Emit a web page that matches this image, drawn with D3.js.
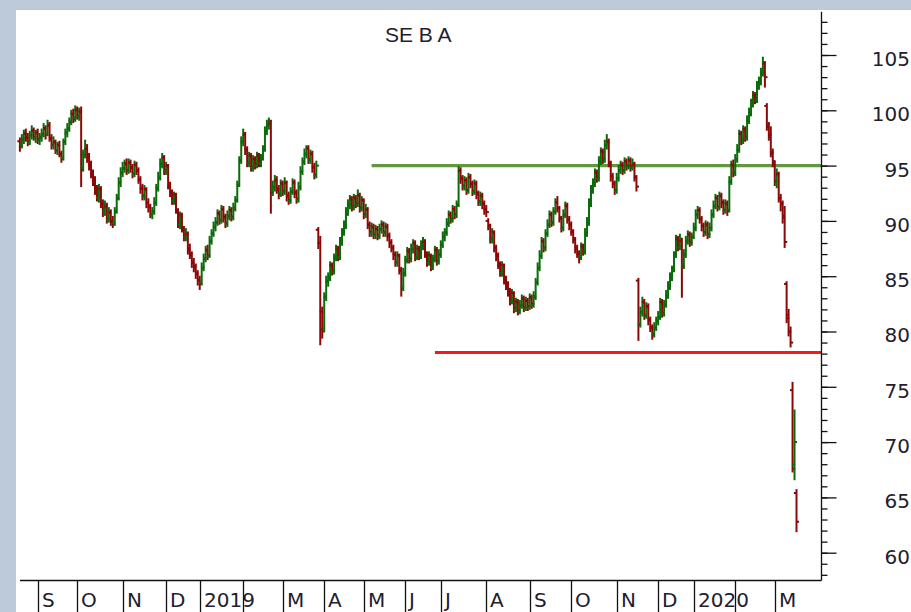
<!DOCTYPE html>
<html><head><meta charset="utf-8">
<script src="https://cdn.jsdelivr.net/npm/d3@7"></script>
<style>html,body{margin:0;padding:0;background:#bccada;} svg{display:block}</style>
</head><body><svg id="c" width="911" height="612"></svg>
<script>
const title = "SE B A";
const monthLabels = ["S","O","N","D","2019","","M","A","M","J","J","A","S","O","N","D","2020","","M"];
const monthStartDay = [9,29,52,74,91,113,133,154,174,195,213,236,258,279,302,323,341,362,382];
const yMajorTicks = [60,65,70,75,80,85,90,95,100,105];
const yMinorTicks = [58,59,60,61,62,63,64,65,66,67,68,69,70,71,72,73,74,75,76,77,78,79,80,81,82,83,84,85,86,87,88,89,90,91,92,93,94,95,96,97,98,99,100,101,102,103,104,105,106,107,108];
const resistanceLevel = 95, resistanceStartDay = 178;
const supportLevel = 78.1, supportStartDay = 210;

const openP = [
97.2,96.9,97.3,97.9,97.6,97.1,97.7,98.2,97.5,98.0,
97.3,97.5,97.8,98.4,97.9,98.6,97.4,96.8,97.1,96.3,
96.9,96.0,95.7,97.2,97.9,98.3,99.0,99.7,99.3,100.0,
99.4,99.9,94.8,96.0,96.5,95.8,95.1,94.2,93.7,92.8,
92.1,92.9,91.5,90.9,91.3,90.1,90.8,90.0,89.8,90.9,
92.1,93.4,94.3,94.7,95.2,94.5,95.3,94.9,94.2,95.1,
94.5,93.7,93.0,92.2,92.9,91.7,91.3,90.5,90.9,91.6,
93.0,93.9,95.1,95.7,94.5,95.0,93.1,92.6,91.8,92.4,
90.8,89.7,90.5,89.2,88.5,88.8,87.5,86.9,86.3,85.8,
85.3,84.7,84.4,85.7,86.5,87.4,86.8,88.1,88.9,89.4,
89.8,90.7,90.0,91.1,90.4,89.7,90.4,91.0,90.3,91.1,
91.9,93.3,95.5,97.1,97.8,96.5,95.2,95.9,94.8,95.6,
95.0,95.9,95.2,95.7,96.5,98.0,98.6,98.8,92.7,93.0,
93.7,92.8,92.5,93.4,92.6,93.4,92.3,91.8,92.7,93.5,
92.6,91.9,93.0,94.4,95.4,96.0,96.6,95.5,96.1,94.9,
94.1,89.2,88.0,81.8,80.3,83.1,84.5,84.9,86.0,85.4,
86.7,87.5,86.7,88.0,89.0,89.5,90.7,91.4,92.0,91.2,
92.1,91.5,92.3,91.1,91.9,90.5,91.0,89.7,88.9,89.5,
88.7,89.3,88.6,89.2,89.7,88.9,89.5,88.7,88.1,87.5,
87.0,86.2,86.9,85.5,84.0,85.2,86.5,87.3,86.5,87.4,
88.0,86.7,87.5,86.8,87.7,88.1,87.0,86.2,86.9,85.8,
86.6,87.4,86.3,86.9,87.9,88.5,89.0,89.7,90.6,90.1,
91.1,90.5,91.5,94.5,93.9,93.1,93.7,92.7,94.0,93.3,
92.6,93.4,92.5,91.7,92.3,91.6,91.1,90.0,89.5,88.3,
89.0,87.5,86.9,86.0,85.3,86.0,84.8,84.1,83.7,82.7,
83.5,82.0,82.7,81.8,82.3,83.0,82.1,82.8,82.2,83.1,
82.4,83.1,84.5,85.7,86.8,88.2,87.5,88.9,89.6,90.6,
89.8,90.9,91.7,91.1,90.2,89.3,90.5,91.4,90.1,89.7,
89.0,88.3,87.6,87.0,86.8,87.7,87.2,88.8,89.8,91.5,
92.9,93.3,94.4,93.8,95.3,96.3,95.5,96.8,97.2,95.2,
94.1,93.3,92.7,93.8,94.5,95.1,94.5,95.4,94.9,95.5,
94.8,95.1,93.9,84.6,80.7,81.7,82.7,81.4,82.3,81.1,
80.3,79.8,80.3,81.0,81.3,82.7,81.6,82.5,83.2,84.0,
84.8,85.6,86.9,88.4,87.6,88.2,86.0,86.9,88.1,88.8,
88.0,88.6,89.3,90.5,91.0,90.1,89.6,88.9,89.7,88.7,
89.3,90.5,91.3,92.1,91.2,92.3,91.7,90.9,91.6,91.0,
93.5,95.1,94.3,95.5,96.4,97.9,97.2,98.3,97.5,99.0,
99.7,100.5,101.4,100.9,102.1,102.5,103.3,104.2,100.4,98.5,
97.7,96.1,95.2,93.5,94.2,92.0,91.5,90.5,84.3,81.5,
80.0,74.7,68.0,65.4];

const highP = [
97.5,97.8,98.2,98.3,97.9,98.1,98.6,98.4,98.2,98.3,
97.9,98.3,98.8,98.6,99.1,98.9,97.8,97.6,97.3,97.1,
97.2,96.3,97.4,98.3,98.8,99.3,100.0,100.1,100.4,100.3,
100.2,100.3,96.4,97.3,96.9,96.1,95.4,94.6,94.0,93.2,
93.3,93.1,91.9,91.8,91.6,91.2,91.0,90.4,91.2,92.4,
93.9,94.8,95.3,95.5,95.6,95.6,95.5,95.1,95.4,95.3,
94.8,94.0,93.3,93.2,93.0,92.0,91.5,91.2,92.1,93.3,
94.4,95.6,96.1,95.9,95.3,95.1,93.5,92.8,92.6,92.5,
91.1,90.8,90.7,89.5,89.3,89.0,87.9,87.2,86.6,86.1,
85.5,85.0,86.2,87.0,87.7,87.8,88.6,89.2,89.9,90.3,
91.0,90.9,91.4,91.3,90.6,90.9,91.3,91.2,91.6,92.2,
93.6,95.8,97.6,98.3,98.0,96.7,96.2,96.1,95.9,95.8,
96.2,96.1,96.0,96.8,98.5,99.1,99.3,99.1,93.6,94.1,
94.0,93.2,93.7,93.6,93.9,93.6,92.6,93.0,93.8,93.7,
92.8,93.5,94.9,95.7,96.5,96.8,96.8,96.4,96.3,95.2,
95.4,89.4,88.6,82.2,83.5,85.0,85.3,86.3,86.2,87.0,
87.8,87.7,88.5,89.3,90.0,91.2,91.9,92.3,92.2,92.4,
92.3,92.8,92.5,92.2,92.0,91.5,91.2,89.9,89.8,89.7,
89.6,89.5,89.7,90.0,89.9,89.8,89.7,88.9,88.3,87.8,
87.2,87.2,87.0,85.8,85.7,86.8,87.6,87.5,87.9,88.3,
88.2,87.8,87.7,88.2,88.5,88.3,87.2,87.2,87.0,86.9,
87.7,87.6,87.4,88.2,89.0,89.3,90.2,90.9,90.8,91.4,
91.3,91.8,94.9,94.8,94.1,94.0,93.9,94.3,94.2,93.6,
93.7,93.6,92.7,92.6,92.5,91.8,91.4,90.2,89.7,89.3,
89.1,87.8,87.1,86.3,86.3,86.1,85.0,84.5,83.9,83.8,
83.6,83.0,82.9,82.8,83.3,83.2,83.1,83.0,83.4,83.3,
83.6,84.8,86.2,87.3,88.5,88.4,89.2,90.1,90.9,90.8,
91.2,92.0,92.2,91.3,90.4,91.0,91.7,91.6,90.4,89.9,
89.2,88.5,87.8,87.3,88.0,87.9,89.3,90.3,92.0,93.2,
93.8,94.7,94.6,95.8,96.6,96.5,97.3,97.8,97.4,95.4,
94.3,93.6,94.3,95.0,95.4,95.3,95.7,95.6,95.8,95.7,
95.6,95.3,94.1,84.8,82.2,83.1,82.9,82.6,82.5,81.3,
80.6,80.8,81.3,81.8,83.0,82.9,82.8,83.7,84.5,85.3,
85.9,87.2,88.7,88.6,88.8,88.4,87.4,88.6,89.1,89.0,
88.9,89.8,91.0,91.3,91.2,90.4,89.8,90.0,89.9,89.8,
91.0,91.8,92.4,92.3,92.6,92.5,91.9,91.9,91.8,94.0,
95.4,95.5,96.0,96.9,98.2,98.1,98.6,98.5,99.5,100.2,
101.0,101.7,101.6,102.6,103.0,103.8,104.8,104.4,100.6,98.9,
98.5,96.5,95.4,94.7,94.4,92.4,91.8,91.3,84.5,82.0,
80.4,75.4,72.9,65.7];

const lowP = [
96.3,96.6,97.0,97.2,96.8,96.9,97.4,97.3,97.1,97.0,
96.9,97.2,97.6,97.4,97.7,97.2,96.5,96.5,96.1,96.0,
95.8,95.3,95.5,96.9,97.6,98.1,98.7,98.9,99.0,99.2,
99.1,93.1,94.5,95.7,95.3,94.6,93.9,93.2,92.4,91.8,
91.7,91.2,90.4,90.5,89.8,89.9,89.6,89.4,89.6,90.7,
91.9,93.1,94.0,94.4,94.2,94.3,94.4,93.9,94.0,94.2,
93.4,92.5,91.9,91.9,91.2,90.8,90.3,90.2,90.6,91.4,
92.7,93.7,94.8,94.2,94.2,92.9,92.2,91.5,91.5,90.7,
89.4,89.3,89.0,88.2,88.2,87.0,86.6,85.8,85.4,84.8,
84.2,83.8,84.2,85.5,86.3,86.5,86.7,87.9,88.6,89.1,
89.6,89.7,89.8,89.9,89.4,89.5,90.1,90.0,90.1,90.9,
91.7,93.1,95.2,96.8,96.0,94.9,94.9,94.5,94.5,94.7,
94.8,94.9,94.9,95.5,96.3,97.8,98.3,90.7,92.3,92.7,
92.5,92.0,92.2,92.3,92.4,91.8,91.5,91.6,92.4,92.1,
91.6,91.7,92.8,94.2,95.1,95.7,95.2,95.2,94.4,93.8,
93.9,87.5,78.8,79.4,80.0,82.8,84.1,84.6,85.1,85.2,
86.4,86.4,86.5,87.8,88.7,89.3,90.5,91.1,90.9,91.0,
91.2,91.3,90.8,90.9,90.2,90.3,89.3,88.6,88.6,88.4,
88.4,88.3,88.4,88.9,88.6,88.6,88.2,87.6,87.2,86.5,
85.9,85.9,85.2,83.2,83.7,85.0,86.2,86.2,86.3,87.1,
86.4,86.5,86.5,86.6,87.4,86.7,85.9,86.0,85.5,85.6,
86.3,86.0,86.1,86.7,87.6,88.2,88.7,89.5,89.8,89.9,
90.2,90.3,91.3,93.4,92.8,92.8,92.4,92.5,93.0,92.3,
92.4,92.0,91.4,91.4,91.1,90.6,90.4,89.2,88.0,88.0,
87.2,86.4,85.7,85.0,85.0,84.3,83.8,83.2,82.4,82.5,
81.7,81.8,81.5,81.6,82.1,81.8,81.9,81.9,82.0,82.1,
82.2,82.9,84.2,85.5,86.6,87.2,87.3,88.6,89.4,89.5,
89.6,90.6,90.8,89.9,89.0,89.1,90.3,89.8,89.2,88.7,
88.0,87.1,86.7,86.2,86.5,86.9,87.0,88.6,89.6,91.3,
92.5,93.1,93.5,93.6,95.1,95.2,95.3,96.5,94.9,93.6,
93.0,92.4,92.5,93.6,94.3,94.2,94.3,94.6,94.7,94.5,
94.6,93.6,92.7,79.2,80.4,81.4,81.1,81.2,80.6,80.0,
79.3,79.5,80.1,80.6,81.1,81.3,81.4,82.2,83.0,83.8,
84.6,85.4,86.7,87.3,87.4,83.1,85.7,86.7,87.9,87.7,
87.8,88.4,89.1,90.2,89.8,89.1,88.6,88.7,88.4,88.5,
89.1,90.3,91.1,90.9,91.0,91.2,90.6,90.7,90.5,90.8,
93.3,94.0,94.1,95.3,96.2,96.9,97.0,97.2,97.3,98.8,
99.5,100.3,100.6,100.7,101.9,102.3,103.1,102.1,98.2,97.3,
95.8,94.9,93.2,93.0,91.7,90.9,89.8,87.6,80.8,79.6,
78.6,67.3,66.6,61.9];

const closeP = [
96.8,97.4,97.9,97.5,97.2,97.8,98.1,97.6,97.9,97.4,
97.6,97.9,98.3,97.8,98.7,97.5,96.9,97.2,96.4,96.8,
96.1,95.6,97.1,98.0,98.4,98.9,99.6,99.2,100.1,99.5,
99.8,94.6,95.9,96.6,95.7,95.0,94.3,93.6,92.9,92.2,
92.8,91.6,91.0,91.4,90.2,90.7,89.9,89.7,90.8,92.0,
93.5,94.4,94.8,95.1,94.6,95.2,94.8,94.3,95.0,94.6,
93.8,92.9,92.3,92.8,91.6,91.2,90.6,90.8,91.7,92.9,
94.0,95.2,95.8,94.6,94.9,93.2,92.5,91.9,92.3,91.0,
89.8,90.4,89.3,88.6,88.9,87.4,87.0,86.2,85.9,85.2,
84.6,84.3,85.8,86.6,87.3,86.9,88.2,88.8,89.5,89.9,
90.6,90.1,91.0,90.3,89.8,90.5,90.9,90.4,91.2,91.8,
93.2,95.4,97.2,97.9,96.4,95.3,95.8,94.9,95.5,95.1,
95.8,95.3,95.6,96.4,98.1,98.7,99.0,92.6,93.1,93.6,
92.9,92.4,93.3,92.7,93.5,92.2,91.9,92.6,93.4,92.5,
92.0,93.1,94.5,95.3,96.1,96.5,95.6,96.0,94.8,94.2,
95.0,88.0,80.2,80.0,83.2,84.6,84.8,85.9,85.5,86.6,
87.4,86.8,88.1,88.9,89.6,90.8,91.5,91.9,91.3,92.0,
91.6,92.4,91.2,91.8,90.6,91.1,89.6,89.0,89.4,88.8,
89.2,88.7,89.3,89.6,89.0,89.4,88.6,88.0,87.6,86.9,
86.3,86.8,85.6,83.9,85.3,86.4,87.2,86.6,87.5,87.9,
86.8,87.4,86.9,87.8,88.0,87.1,86.3,86.8,85.9,86.5,
87.3,86.4,87.0,87.8,88.6,88.9,89.8,90.5,90.2,91.0,
90.6,91.4,94.6,93.8,93.2,93.6,92.8,93.9,93.4,92.7,
93.3,92.4,91.8,92.2,91.5,91.0,90.8,89.6,88.4,88.9,
87.6,86.8,86.1,85.4,85.9,84.7,84.2,83.6,82.8,83.4,
82.1,82.6,81.9,82.4,82.9,82.2,82.7,82.3,83.0,82.5,
83.2,84.4,85.8,86.9,88.1,87.6,88.8,89.7,90.5,89.9,
90.8,91.6,91.2,90.3,89.4,90.6,91.3,90.2,89.6,89.1,
88.4,87.5,87.1,86.7,87.6,87.3,88.9,89.9,91.6,92.8,
93.4,94.3,93.9,95.4,96.2,95.6,96.9,97.1,95.3,94.0,
93.4,92.8,93.9,94.6,95.0,94.6,95.3,95.0,95.4,94.9,
95.2,94.0,93.1,80.6,81.8,82.6,81.5,82.2,81.0,80.4,
79.7,80.4,80.9,81.2,82.6,81.7,82.4,83.3,84.1,84.9,
85.5,86.8,88.3,87.7,88.4,85.9,87.0,88.2,88.7,88.1,
88.5,89.4,90.6,90.9,90.2,89.5,89.0,89.6,88.8,89.4,
90.6,91.4,92.0,91.3,92.2,91.6,91.0,91.5,90.9,93.6,
95.0,94.4,95.6,96.5,97.8,97.3,98.2,97.6,99.1,99.8,
100.6,101.3,101.0,102.2,102.6,103.4,104.3,103.0,98.6,97.8,
96.2,95.4,93.6,94.3,92.1,91.6,90.3,88.1,81.2,80.0,
79.0,67.6,70.0,62.8];

const W = 911, H = 612;
const upColor = "#0b6b0b", downColor = "#8c0808";
const textColor = "#23202e";
const titleFont = "Arial, 'Liberation Sans', Helvetica, sans-serif";
const labelFont = "'DejaVu Sans', Verdana, sans-serif";

const svg = d3.select("#c");
svg.append("rect").attr("width", W).attr("height", H).attr("fill", "#bccada");
svg.append("rect").attr("x", 16).attr("y", 10).attr("width", W - 16).attr("height", H - 10).attr("fill", "#ffffff");

const nDays = closeP.length;
const x = d3.scaleLinear().domain([0, 393]).range([19.9, 796.5]);
const y = d3.scaleLinear().domain([60, 105]).range([552.7, 55]);
const axisX = 821.5;
const xAxisY = 580.5;

// title
svg.append("text").attr("x", 385).attr("y", 42).text(title)
  .attr("font-family", titleFont).attr("font-size", 21).attr("fill", textColor);

// horizontal support / resistance lines
svg.append("line").attr("x1", x(resistanceStartDay)).attr("x2", axisX)
  .attr("y1", y(resistanceLevel)).attr("y2", y(resistanceLevel))
  .attr("stroke", "#62963f").attr("stroke-width", 3.2);
svg.append("line").attr("x1", x(supportStartDay)).attr("x2", axisX)
  .attr("y1", y(supportLevel)).attr("y2", y(supportLevel))
  .attr("stroke", "#f81818").attr("stroke-width", 3.2);

// OHLC bars
const days = d3.range(nDays);
const g = svg.append("g");
const bar = g.selectAll("g.bar").data(days).join("g").attr("class", "bar")
  .attr("stroke", i => closeP[i] >= openP[i] ? upColor : downColor)
  .attr("stroke-width", 2);
bar.append("line").attr("x1", i => x(i)).attr("x2", i => x(i))
  .attr("y1", i => y(highP[i]) - 0.5).attr("y2", i => y(lowP[i]) + 0.5);
bar.append("line").attr("x1", i => x(i) - 2.6).attr("x2", i => x(i))
  .attr("y1", i => y(openP[i])).attr("y2", i => y(openP[i]));
bar.append("line").attr("x1", i => x(i)).attr("x2", i => x(i) + 2.6)
  .attr("y1", i => y(closeP[i])).attr("y2", i => y(closeP[i]));

// right axis
const ax = svg.append("g").attr("transform", `translate(${axisX},0)`);
ax.append("line").attr("x1", 0).attr("x2", 0).attr("y1", y(108.9)).attr("y2", xAxisY)
  .attr("stroke", "#111").attr("stroke-width", 1.3);
const minor = ax.append("g").call(d3.axisRight(y).tickValues(yMinorTicks).tickSize(6).tickSizeOuter(0).tickFormat(""));
minor.select(".domain").remove();
minor.selectAll("line").attr("stroke", "#111").attr("stroke-width", 1.3);
const major = ax.append("g").call(d3.axisRight(y).tickValues(yMajorTicks).tickSize(15).tickSizeOuter(0));
major.select(".domain").remove();
major.selectAll("line").attr("stroke", "#111").attr("stroke-width", 1.3);
major.selectAll("text").attr("x", 910 - axisX).attr("dy", "0.72em").attr("y", -4)
  .attr("text-anchor", "end").attr("font-family", labelFont).attr("font-size", 20).attr("fill", textColor);

// bottom axis
svg.append("line").attr("x1", 20).attr("x2", axisX).attr("y1", xAxisY).attr("y2", xAxisY)
  .attr("stroke", "#111").attr("stroke-width", 1.3);
const mg = svg.append("g");
monthStartDay.forEach((d, k) => {
  if (!monthLabels[k]) return;
  mg.append("text").attr("x", Math.round(x(d)) + 4).attr("y", 607).text(monthLabels[k])
    .attr("font-family", labelFont).attr("font-size", 20).attr("fill", textColor);
});
monthStartDay.forEach((d, k) => {
  const mx = Math.round(x(d)) + 0.5;
  mg.append("line").attr("x1", mx).attr("x2", mx).attr("y1", xAxisY).attr("y2", H)
    .attr("stroke", "#111").attr("stroke-width", 1.3);
});
</script></body></html>
